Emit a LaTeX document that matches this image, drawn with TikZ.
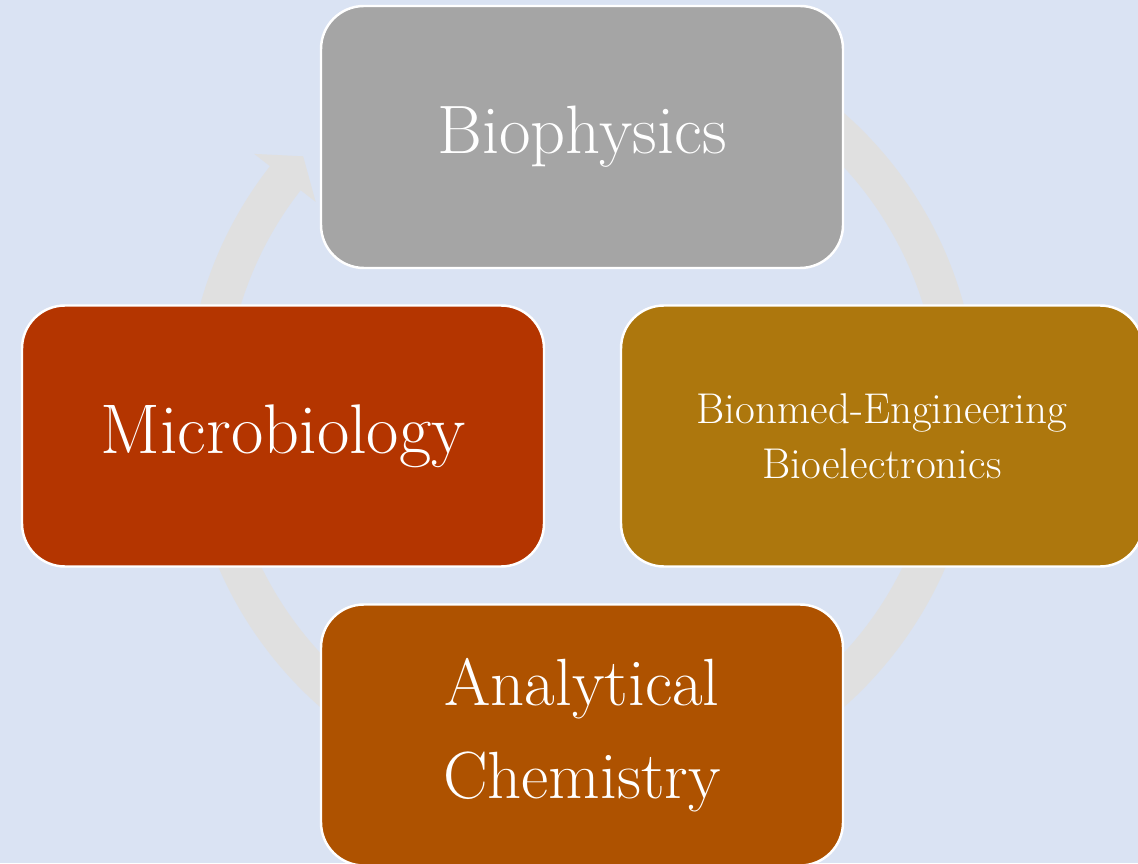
\documentclass[tikz,border=0pt]{standalone}
\definecolor{bgblue}{RGB}{218,227,243}
\definecolor{ringgray}{RGB}{224,224,224}
\definecolor{physgray}{RGB}{165,165,165}
\definecolor{microred}{RGB}{180,53,0}
\definecolor{engyellow}{RGB}{173,119,13}
\definecolor{chemorange}{RGB}{174,82,0}
\begin{document}
\begin{tikzpicture}[
    field/.style={rectangle, rounded corners=0.86cm, draw=white, line width=1.4pt,
      minimum width=10.44cm, minimum height=5.22cm, inner sep=0pt,
      text=white, align=center}]
  % background
  \fill[bgblue] (0,0) rectangle (22.76,17.26);
  \useasboundingbox (0,0) rectangle (22.76,17.26);
  \clip (0,0) rectangle (22.76,17.26);
  % center of the cycle
  \coordinate (ctr) at (11.64,9.06);
  % ring with arrow head
  \begin{scope}[shift={(ctr)}]
    \fill[ringgray] (142:7.14) -- (142:6.76) -- (137.7:7.54) -- (142:8.32) -- (142:7.92)
      arc[start angle=142, end angle=480, radius=7.92] -- (120:7.14)
      arc[start angle=480, end angle=142, radius=7.14] -- cycle;
  \end{scope}
  % fields
  \node[field, fill=physgray, minimum height=5.24cm, font=\fontsize{39}{46}\selectfont]
    (phys) at (11.64,14.52) {Biophysics};
  \node[field, fill=microred, font=\fontsize{40}{48}\selectfont]
    (micro) at (5.66,8.54) {Microbiology};
  \node[field, fill=engyellow, font=\fontsize{24.5}{31}\selectfont]
    (eng) at (17.64,8.54) {Bionmed-Engineering\\Bioelectronics};
  \node[field, fill=chemorange, font=\fontsize{38}{53}\selectfont]
    (chem) at (11.64,2.56) {Analytical\\Chemistry};
\end{tikzpicture}
\end{document}
